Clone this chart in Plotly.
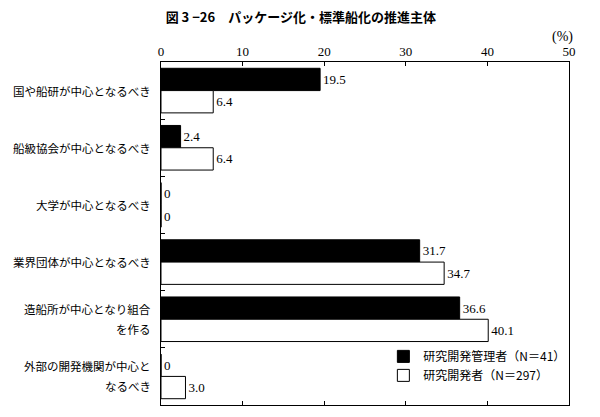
import plotly.graph_objects as go

categories = [
    "国や船研が中心となるべき",
    "船級協会が中心となるべき",
    "大学が中心となるべき",
    "業界団体が中心となるべき",
    "造船所が中心となり組合\nを作る",
    "外部の開発機関が中心と\nなるべき",
]
managers = [19.5, 2.4, 0, 31.7, 36.6, 0]
developers = [6.4, 6.4, 0, 34.7, 40.1, 3.0]
x_ticks = [0, 10, 20, 30, 40, 50]


def fmt(v):
    return "0" if v == 0 else f"{v:.1f}"


serif = "Liberation Serif, Noto Sans CJK JP"
jp = "Noto Sans CJK JP"

fig = go.Figure()
fig.add_trace(go.Bar(
    y=categories, x=managers, orientation="h",
    name="研究開発管理者（N＝41）",
    marker=dict(color="black", line=dict(color="black", width=1)),
    text=[fmt(v) for v in managers], textposition="outside",
    textfont=dict(family=serif, size=13, color="black"),
    cliponaxis=False,
))
fig.add_trace(go.Bar(
    y=categories, x=developers, orientation="h",
    name="研究開発者（N＝297）",
    marker=dict(color="white", line=dict(color="black", width=1)),
    text=[fmt(v) for v in developers], textposition="outside",
    textfont=dict(family=serif, size=13, color="black"),
    cliponaxis=False,
))

# category labels drawn as annotations so two-line labels get wider spacing
for cat in categories:
    lines = cat.split("\n")
    n = len(lines)
    for i, line in enumerate(lines):
        fig.add_annotation(
            text=line, xref="paper", yref="y", x=0, y=cat,
            xanchor="right", yanchor="middle", xshift=-8,
            yshift=((n - 1) / 2 - i) * 20, showarrow=False,
            font=dict(family=jp, size=11.5, color="black"),
        )

fig.update_layout(
    width=600, height=417,
    margin=dict(l=153, r=39, t=54, b=20),
    paper_bgcolor="white", plot_bgcolor="white",
    barmode="group", bargap=0.22, bargroupgap=0,
    title=dict(text="<b>図 3 −26　パッケージ化・標準船化の推進主体</b>",
               x=0.488, xanchor="center", xref="container",
               y=1 - 9 / 417, yanchor="middle", yref="container",
               font=dict(family=jp, size=13, color="black")),
    showlegend=True,
    legend=dict(x=0.545, y=0.184, xanchor="left", yanchor="top",
                bgcolor="rgba(0,0,0,0)", traceorder="normal",
                font=dict(family=jp, size=12, color="black"),
                itemwidth=30),
    font=dict(family=jp, color="black"),
)
fig.update_xaxes(
    side="top", range=[0, 50], tickvals=x_ticks,
    ticks="inside", ticklen=4, tickcolor="black",
    showline=True, linecolor="black", linewidth=1, mirror="ticks",
    showgrid=False, zeroline=False,
    tickfont=dict(family=serif, size=13, color="black"),
)
fig.update_yaxes(
    autorange="reversed", type="category",
    ticks="inside", tickson="boundaries", ticklen=4, tickcolor="black",
    showline=True, linecolor="black", linewidth=1, mirror=True,
    showgrid=False, showticklabels=False,
)
fig.add_annotation(text="(%)", xref="paper", yref="paper", x=1.0, y=1.0,
                   xanchor="center", yanchor="middle", xshift=-7, yshift=25,
                   showarrow=False,
                   font=dict(family=serif, size=14, color="black"))

fig.write_html("out.html")
